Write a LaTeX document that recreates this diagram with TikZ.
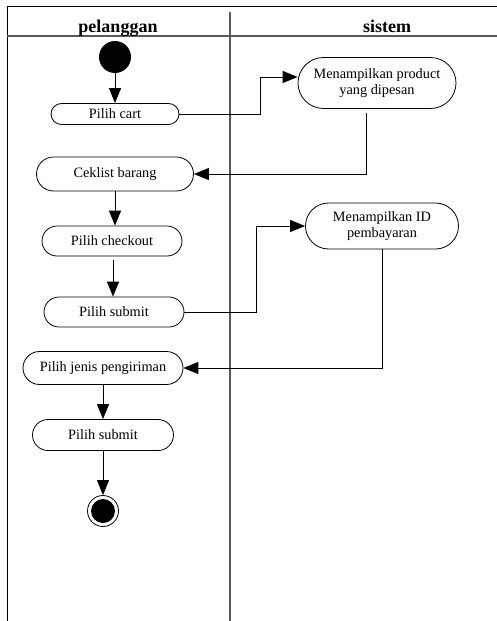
\documentclass[tikz,border=0pt]{standalone}
\usepackage{fontspec}
\setmainfont{Liberation Serif}
\usetikzlibrary{arrows.meta}
\begin{document}
\begin{tikzpicture}[x=1pt,y=-1pt,
  frame/.style={line width=1pt,black},
  lane/.style={line width=1.5pt,black!65},
  act/.style n args={2}{draw,fill=white,line width=0.8pt,inner sep=0pt,align=center,
    minimum width=#1pt,minimum height=#2pt,rounded corners=#2pt/2,
    font=\fontsize{14.3}{16.5}\selectfont},
  arr/.style={line width=1pt,-{Triangle[length=15pt,width=12pt]}},
  head/.style={font=\fontsize{18}{20}\selectfont\bfseries,anchor=base}]
\useasboundingbox (0,0) rectangle (497,621);
% swimlane frame
\draw[frame] (7,621) -- (7,6) -- (497,6);
\draw[lane] (7,36) -- (497,36);
\draw[lane] (230,12) -- (230,621);
\node[head] (h1) at (118,32) {pelanggan};
\node[head] (h2) at (387,32) {sistem};
% start and end states
\node[circle,fill=black,minimum size=32pt,inner sep=0pt] (start) at (115,57) {};
\node[circle,draw,line width=0.8pt,minimum size=31pt,inner sep=0pt] (stop) at (103,511) {};
\node[circle,fill=black,minimum size=24pt,inner sep=0pt] (stopin) at (103,511) {};
% activities
\node[act={128}{21}] (cart) at (115,114) {Pilih cart};
\node[act={158}{51}] (prod) at (377,83) {Menampilkan product\\yang dipesan};
\node[act={157}{34}] (ceklist) at (115,174) {Ceklist barang};
\node[act={140}{30}] (checkout) at (112,241) {Pilih checkout};
\node[act={140}{30}] (submit) at (114,312) {Pilih submit};
\node[act={153}{46}] (idbayar) at (382,226) {Menampilkan ID\\pembayaran};
\node[act={160}{33}] (jenis) at (103,368) {Pilih jenis pengiriman};
\node[act={141}{31}] (submitb) at (103,435) {Pilih submit};
% flows
\coordinate (p1) at (366,113);
\draw[arr] (start) -- (cart);
\draw[arr] (cart.east) -- (260,114) |- ([yshift=6pt]prod.west);
\draw[arr] (p1) |- (ceklist.east);
\draw[arr] (ceklist.south) -- (ceklist.south |- checkout.north);
\draw[arr,shorten <=4pt] (113,256) -- (submit.north -| 113,0);
\draw[arr] (submit.east) -- (256,312) |- (idbayar.west);
\draw[arr] (idbayar.south) |- (jenis.east);
\draw[arr] (jenis) -- (submitb);
\draw[arr] (submitb) -- (stop);
\end{tikzpicture}
\end{document}
